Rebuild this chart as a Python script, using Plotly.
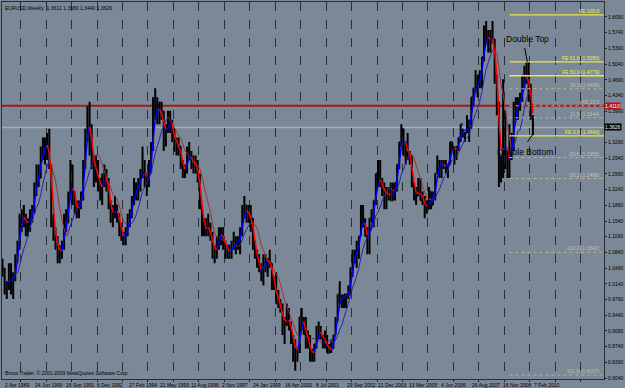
import plotly.graph_objects as go
import pandas as pd
import numpy as np

# ---------------- data (monthly approximation of the weekly EURUSD chart) ----------------
start_month = "1989-04-01"
high = [
    1.07, 1.05, 1.02, 1.06, 1.06, 1.04, 1.08, 1.11, 1.17,
    1.18, 1.19, 1.17, 1.16, 1.18, 1.19, 1.24, 1.28, 1.28, 1.32, 1.34, 1.34,
    1.35, 1.36, 1.28, 1.17, 1.14, 1.12, 1.10, 1.11, 1.17, 1.18, 1.22, 1.29,
    1.28, 1.22, 1.20, 1.20, 1.22, 1.29, 1.36, 1.41, 1.42, 1.37, 1.30, 1.30,
    1.29, 1.25, 1.26, 1.28, 1.27, 1.25, 1.20, 1.19, 1.21, 1.19, 1.17, 1.15,
    1.13, 1.14, 1.17, 1.18, 1.21, 1.25, 1.24, 1.25, 1.27, 1.32, 1.29, 1.26,
    1.29, 1.33, 1.43, 1.45, 1.43, 1.42, 1.42, 1.40, 1.37, 1.40, 1.40, 1.38,
    1.36, 1.34, 1.34, 1.32, 1.29, 1.28, 1.32, 1.33, 1.31, 1.30, 1.30, 1.29,
    1.26, 1.19, 1.16, 1.16, 1.17, 1.15, 1.13, 1.10, 1.12, 1.14, 1.14, 1.14,
    1.11, 1.10, 1.10, 1.11, 1.13, 1.12, 1.12, 1.14, 1.19, 1.21, 1.19, 1.19,
    1.19, 1.16, 1.11, 1.09, 1.08, 1.06, 1.08, 1.08, 1.07, 1.09, 1.06, 1.03,
    1.04, 1.00, 0.98, 0.97, 0.94, 0.97, 0.96, 0.93, 0.90, 0.89, 0.87, 0.94,
    0.96, 0.94, 0.94, 0.91, 0.90, 0.87, 0.88, 0.92, 0.93, 0.92, 0.90, 0.91,
    0.90, 0.88, 0.89, 0.90, 0.94, 0.99, 1.02, 0.99, 0.99, 0.99, 1.01, 1.05,
    1.09, 1.09, 1.11, 1.12, 1.19, 1.19, 1.16, 1.14, 1.16, 1.18, 1.20, 1.26,
    1.29, 1.29, 1.25, 1.24, 1.23, 1.23, 1.24, 1.24, 1.24, 1.28, 1.33, 1.37,
    1.36, 1.33, 1.35, 1.31, 1.30, 1.24, 1.23, 1.25, 1.25, 1.22, 1.21, 1.20,
    1.23, 1.22, 1.22, 1.26, 1.30, 1.29, 1.29, 1.29, 1.29, 1.28, 1.33, 1.33,
    1.32, 1.32, 1.34, 1.37, 1.36, 1.35, 1.39, 1.38, 1.43, 1.45, 1.49, 1.48,
    1.49, 1.52, 1.59, 1.60, 1.58, 1.58, 1.60, 1.56, 1.48, 1.42, 1.30, 1.47,
    1.40, 1.31, 1.37, 1.35, 1.42, 1.43, 1.43, 1.44, 1.48, 1.50, 1.51, 1.51,
    1.46, 1.39,
]
low = [
    1.03, 0.99, 0.98, 1.00, 0.99, 0.98, 1.02, 1.06, 1.09,
    1.13, 1.14, 1.12, 1.12, 1.13, 1.15, 1.17, 1.21, 1.23, 1.25, 1.29, 1.28,
    1.29, 1.27, 1.14, 1.11, 1.09, 1.06, 1.06, 1.07, 1.09, 1.13, 1.15, 1.20,
    1.19, 1.17, 1.16, 1.16, 1.18, 1.20, 1.27, 1.33, 1.30, 1.27, 1.23, 1.24,
    1.22, 1.20, 1.19, 1.23, 1.22, 1.18, 1.15, 1.14, 1.16, 1.15, 1.12, 1.11,
    1.10, 1.10, 1.12, 1.14, 1.16, 1.19, 1.20, 1.20, 1.22, 1.25, 1.23, 1.21,
    1.23, 1.26, 1.31, 1.38, 1.37, 1.37, 1.38, 1.31, 1.32, 1.35, 1.35, 1.33,
    1.31, 1.30, 1.30, 1.27, 1.25, 1.25, 1.26, 1.29, 1.27, 1.26, 1.26, 1.24,
    1.18, 1.12, 1.12, 1.12, 1.12, 1.11, 1.07, 1.06, 1.07, 1.09, 1.10, 1.09,
    1.07, 1.07, 1.07, 1.07, 1.09, 1.08, 1.09, 1.08, 1.12, 1.16, 1.15, 1.15,
    1.13, 1.09, 1.07, 1.05, 1.04, 1.02, 1.01, 1.04, 1.03, 1.05, 1.00, 1.00,
    0.97, 0.96, 0.95, 0.90, 0.88, 0.92, 0.91, 0.88, 0.84, 0.82, 0.84, 0.86,
    0.91, 0.90, 0.87, 0.87, 0.84, 0.84, 0.84, 0.87, 0.89, 0.89, 0.87, 0.87,
    0.86, 0.86, 0.86, 0.87, 0.90, 0.93, 0.97, 0.96, 0.96, 0.96, 0.98, 0.99,
    1.03, 1.06, 1.05, 1.07, 1.12, 1.14, 1.12, 1.08, 1.08, 1.15, 1.14, 1.19,
    1.23, 1.23, 1.21, 1.18, 1.18, 1.20, 1.20, 1.20, 1.20, 1.22, 1.27, 1.32,
    1.30, 1.28, 1.29, 1.28, 1.23, 1.20, 1.19, 1.21, 1.20, 1.19, 1.16, 1.17,
    1.18, 1.18, 1.19, 1.20, 1.26, 1.25, 1.25, 1.27, 1.26, 1.25, 1.28, 1.31,
    1.28, 1.29, 1.31, 1.33, 1.34, 1.33, 1.35, 1.33, 1.36, 1.41, 1.44, 1.43,
    1.45, 1.45, 1.51, 1.55, 1.53, 1.53, 1.55, 1.46, 1.39, 1.23, 1.24, 1.25,
    1.27, 1.25, 1.25, 1.29, 1.31, 1.38, 1.38, 1.40, 1.42, 1.45, 1.46, 1.42,
    1.38, 1.344,
]
close = [
    1.04, 1.00, 1.01, 1.05, 1.00, 1.03, 1.07, 1.10, 1.16,
    1.17, 1.16, 1.14, 1.15, 1.17, 1.18, 1.23, 1.27, 1.25, 1.31, 1.33, 1.31,
    1.33, 1.28, 1.15, 1.13, 1.11, 1.07, 1.09, 1.10, 1.16, 1.15, 1.21, 1.27,
    1.20, 1.19, 1.17, 1.19, 1.21, 1.28, 1.35, 1.39, 1.35, 1.28, 1.26, 1.28,
    1.23, 1.21, 1.25, 1.26, 1.24, 1.19, 1.16, 1.17, 1.19, 1.17, 1.13, 1.12,
    1.11, 1.13, 1.16, 1.17, 1.20, 1.23, 1.22, 1.24, 1.26, 1.28, 1.24, 1.24,
    1.28, 1.32, 1.40, 1.42, 1.39, 1.40, 1.39, 1.33, 1.36, 1.39, 1.36, 1.36,
    1.31, 1.33, 1.32, 1.28, 1.26, 1.27, 1.31, 1.30, 1.28, 1.28, 1.28, 1.25,
    1.19, 1.13, 1.15, 1.13, 1.14, 1.12, 1.08, 1.08, 1.11, 1.13, 1.13, 1.10,
    1.09, 1.09, 1.08, 1.10, 1.11, 1.10, 1.11, 1.13, 1.18, 1.19, 1.16, 1.17,
    1.16, 1.10, 1.08, 1.06, 1.05, 1.03, 1.07, 1.06, 1.07, 1.06, 1.01, 1.01,
    0.97, 0.97, 0.96, 0.91, 0.93, 0.95, 0.92, 0.89, 0.88, 0.85, 0.87, 0.94,
    0.93, 0.92, 0.88, 0.89, 0.85, 0.85, 0.88, 0.91, 0.91, 0.90, 0.88, 0.89,
    0.86, 0.87, 0.87, 0.90, 0.93, 0.99, 0.98, 0.98, 0.99, 0.99, 0.99, 1.05,
    1.08, 1.08, 1.09, 1.12, 1.18, 1.15, 1.12, 1.10, 1.16, 1.16, 1.20, 1.26,
    1.24, 1.24, 1.23, 1.20, 1.22, 1.22, 1.20, 1.22, 1.24, 1.28, 1.33, 1.36,
    1.30, 1.33, 1.30, 1.29, 1.23, 1.21, 1.21, 1.23, 1.20, 1.20, 1.18, 1.18,
    1.22, 1.19, 1.21, 1.26, 1.28, 1.28, 1.28, 1.28, 1.27, 1.28, 1.33, 1.32,
    1.30, 1.32, 1.34, 1.37, 1.35, 1.35, 1.37, 1.37, 1.43, 1.45, 1.46, 1.46,
    1.48, 1.52, 1.58, 1.56, 1.55, 1.57, 1.56, 1.47, 1.41, 1.27, 1.27, 1.40,
    1.28, 1.27, 1.33, 1.32, 1.41, 1.40, 1.42, 1.43, 1.46, 1.47, 1.50, 1.43,
    1.39, 1.3626,
]

price_ticks = [1.6090, 1.5740, 1.5390, 1.5040, 1.4690, 1.4340, 1.3990, 1.3640,
               1.3290, 1.2940, 1.2590, 1.2240, 1.1890, 1.1540, 1.1190, 1.0840,
               1.0490, 1.0140, 0.9790, 0.9440, 0.9090, 0.8740, 0.8390, 0.8040]
hidden_ticks = [1.3640]   # covered by the bid box in the reference
date_labels = ["2 Apr 1989", "24 Jun 1990", "16 Sep 1991", "6 Dec 1992", "27 Feb 1994",
               "21 May 1995", "11 Aug 1996", "2 Nov 1997", "24 Jan 1999", "16 Apr 2000",
               "8 Jul 2001", "29 Sep 2002", "21 Dec 2003", "13 Mar 2005", "4 Jun 2006",
               "26 Aug 2007", "16 Nov 2008", "7 Feb 2010"]

title_text = "EURUSD,Weekly  1.3612 1.3680 1.3440 1.3626"
copyright_text = "Broco Trader, \u00a9 2001-2009 MetaQuotes Software Corp."

red_level = 1.4110
bid_level = 1.3626

# Fibonacci expansion levels: (level text, price, bright?)
fib_levels = [
    ("FE 100.0", 1.6135, True),
    ("FE 61.8 (1.5090)", 1.5090, True),
    ("FE 50.0 (1.4779)", 1.4779, True),
    ("38.2 (1.4489)", 1.4489, False),
    ("FE 23.6", 1.4110, False),
    ("11.8 (1.3844)", 1.3844, False),
    ("FE 0.0 (1.3440)", 1.3440, True),
    ("-23.6 (1.2955)", 1.2955, False),
    ("-38.2 (1.2488)", 1.2488, False),
    ("-100.0 (1.0842)", 1.0842, False),
    ("-161.8 (0.8107)", 0.8107, False),
]

# ---------------- build ----------------
dates = pd.date_range(start_month, periods=len(close), freq="MS") + pd.Timedelta(days=14)
openp = [close[0]] + close[:-1]
openp[-1] = 1.3612

# x-axis pixel calibration (layout only)
anchor_a = pd.Timestamp("1990-06-24")
anchor_b = pd.Timestamp("2010-02-07")
px_a, px_b = 33.0, 535.0
px_per_day = (px_b - px_a) / (anchor_b - anchor_a).days
def px_to_date(px):
    return anchor_a + pd.Timedelta(days=(px - px_a) / px_per_day)

PLOT_L, PLOT_R, PLOT_T, PLOT_B = 2, 607, 1, 379
x_range = [px_to_date(PLOT_L), px_to_date(PLOT_R)]
y_top = 1.6090 + (16 - PLOT_T) / 449.7
y_bot = 0.8040 - (PLOT_B - 378) / 449.7

fig = go.Figure()

# slow / fast moving averages computed from the closes
cs = pd.Series(close)
ma_fast = cs.rolling(3).mean().to_numpy()
ma_slow = cs.rolling(8).mean().to_numpy()

def add_colored(ma, up_c, dn_c, width):
    xu, yu, xd, yd = [], [], [], []
    for i in range(1, len(ma)):
        if np.isnan(ma[i - 1]):
            continue
        if ma[i] >= ma[i - 1]:
            xu += [dates[i - 1], dates[i], None]; yu += [ma[i - 1], ma[i], None]
        else:
            xd += [dates[i - 1], dates[i], None]; yd += [ma[i - 1], ma[i], None]
    fig.add_trace(go.Scatter(x=xu, y=yu, mode="lines", line=dict(color=up_c, width=width), hoverinfo="skip"))
    fig.add_trace(go.Scatter(x=xd, y=yd, mode="lines", line=dict(color=dn_c, width=width), hoverinfo="skip"))

# horizontal lines
fig.add_shape(type="line", xref="paper", x0=0, x1=1, y0=bid_level, y1=bid_level,
              line=dict(color="#a7adb4", width=1.5), layer="below")
fig.add_shape(type="line", xref="paper", x0=0, x1=1, y0=red_level, y1=red_level,
              line=dict(color="#a31a1a", width=2), layer="below")

# fib lines
fib_x0 = px_to_date(512)
for name, p, bright in fib_levels:
    fig.add_shape(type="line", x0=fib_x0, x1=x_range[1], y0=p, y1=p,
                  line=dict(color="#e8e840" if bright else "#b8b48a",
                            width=1.3 if bright else 1, dash="solid" if bright else "dot"))
    fig.add_annotation(x=1, xref="paper", y=p, text=name, showarrow=False,
                       xanchor="right", yanchor="bottom", yshift=-1, xshift=-2,
                       font=dict(size=5, color="#f0f040" if bright else "#c4c0a0",
                                 family="Liberation Sans"))

add_colored(ma_slow, "#2626a6", "#9c3434", 1)

fig.add_trace(go.Ohlc(x=dates, open=openp, high=high, low=low, close=close,
                      increasing=dict(line=dict(color="#000000", width=2)),
                      decreasing=dict(line=dict(color="#000000", width=2)),
                      tickwidth=0.5, hoverinfo="skip"))

add_colored(ma_fast, "#0000ff", "#ff0000", 1.5)

# price boxes on axis
fig.add_annotation(x=1, xref="paper", y=red_level, text="1.4110", showarrow=False,
                   xanchor="left", bgcolor="#b01818", font=dict(size=5, color="white", family="Liberation Sans"),
                   borderpad=0)
fig.add_annotation(x=1, xref="paper", y=bid_level, text="1.3626", showarrow=False,
                   xanchor="left", bgcolor="#000000", font=dict(size=5, color="white", family="Liberation Sans"),
                   borderpad=0)

# date labels
for i, lab in enumerate(date_labels):
    d = pd.to_datetime(lab, format="%d %b %Y")
    if d < x_range[0]:
        d = px_to_date(PLOT_L + 0.5)
    fig.add_annotation(x=d, y=0, yref="paper", text=lab, showarrow=False, xanchor="left",
                       yanchor="top", yshift=-1, xshift=0,
                       font=dict(size=5, color="#000000", family="Liberation Sans"))

# title and copyright
fig.add_annotation(x=0, xref="paper", y=1, yref="paper", text=title_text, showarrow=False,
                   xanchor="left", yanchor="top", xshift=1, yshift=-1,
                   font=dict(size=5, color="#000000", family="Liberation Sans"))
fig.add_annotation(x=0, xref="paper", y=0, yref="paper", text=copyright_text, showarrow=False,
                   xanchor="left", yanchor="bottom", xshift=1, yshift=1,
                   font=dict(size=5, color="#000000", family="Liberation Sans"))

# double top / bottom annotations
fig.add_annotation(x=px_to_date(530), y=1.509, ax=px_to_date(527), ay=1.543, axref="x", ayref="y",
                   text="", showarrow=True, arrowhead=0, arrowwidth=1, arrowcolor="#000")
fig.add_annotation(x=px_to_date(530), y=1.560, text="Double Top", showarrow=False,
                   font=dict(size=8.5, color="#000", family="Liberation Sans"), yanchor="middle")
fig.add_annotation(x=px_to_date(536), y=1.349, ax=px_to_date(529), ay=1.327, axref="x", ayref="y",
                   text="", showarrow=True, arrowhead=0, arrowwidth=1, arrowcolor="#000")
fig.add_annotation(x=px_to_date(528), y=1.307, text="Double Bottom", showarrow=False,
                   font=dict(size=8.5, color="#000", family="Liberation Sans"), yanchor="middle")

fig.update_layout(
    width=625, height=388,
    margin=dict(l=PLOT_L, r=625 - PLOT_R, t=PLOT_T, b=388 - PLOT_B),
    paper_bgcolor="#7b8898", plot_bgcolor="#7b8898",
    showlegend=False,
    xaxis=dict(type="date", range=x_range, showgrid=True, gridcolor="#2a2f36", griddash="dash",
               gridwidth=1, dtick="M12", tick0="1990-01-01", showticklabels=False,
               ticks="outside", ticklen=2, tickcolor="#222", rangeslider=dict(visible=False),
               showline=True, linecolor="#2a2f36", mirror=True, zeroline=False),
    yaxis=dict(side="right", range=[y_bot, y_top], tickvals=price_ticks,
               ticktext=["" if v in hidden_ticks else f"{v:.4f}" for v in price_ticks],
               showgrid=False, ticks="outside", ticklen=2, tickcolor="#222",
               tickfont=dict(size=5, color="#000", family="Liberation Sans"),
               showline=True, linecolor="#2a2f36", mirror=True, zeroline=False),
)

fig.write_html("out.html")
